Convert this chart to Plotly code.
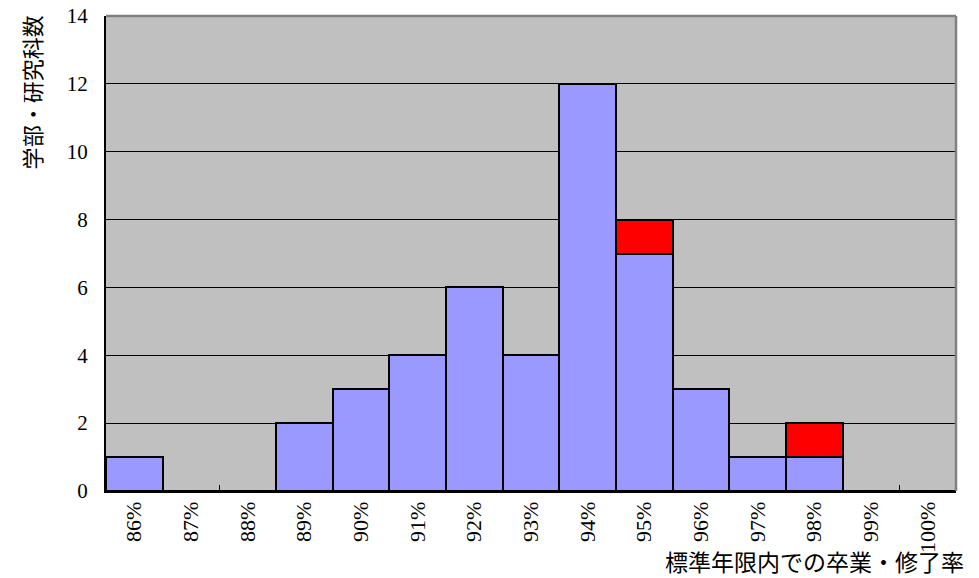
import plotly.graph_objects as go

categories = ["86%", "87%", "88%", "89%", "90%", "91%", "92%", "93%", "94%", "95%", "96%", "97%", "98%", "99%", "100%"]
blue_values = [1, 0, 0, 2, 3, 4, 6, 4, 12, 7, 3, 1, 1, 0, 0]
red_values = [None, None, None, None, None, None, None, None, None, 1, None, None, 1, None, None]
y_ticks = [0, 2, 4, 6, 8, 10, 12, 14]

FONT = "'Liberation Serif', 'DejaVu Serif', 'Noto Sans CJK JP', serif"

fig = go.Figure()
fig.add_trace(go.Bar(x=categories, y=blue_values, marker=dict(color="#9999FF", line=dict(color="black", width=2.5)), showlegend=False))
fig.add_trace(go.Bar(x=categories, y=red_values, marker=dict(color="#FF0000", line=dict(color="black", width=2.5)), showlegend=False))

fig.update_layout(
    width=979, height=578,
    margin=dict(l=106, r=23, t=16, b=87),
    barmode="stack", bargap=0,
    paper_bgcolor="white", plot_bgcolor="#C0C0C0",
    font=dict(family=FONT, color="black"),
    xaxis=dict(type="category", tickangle=-90, tickfont=dict(size=22, family=FONT),
               showline=True, linecolor="black", linewidth=2,
               ticks="inside", tickson="boundaries", ticklen=6, tickcolor="black",
               showgrid=False, range=[-0.5, 14.5], automargin=False),
    yaxis=dict(range=[0, 14], tickvals=y_ticks, tickfont=dict(size=21, family=FONT),
               showline=True, linecolor="black", linewidth=2,
               ticks="inside", ticklen=6, tickcolor="black",
               gridcolor="black", gridwidth=1, zeroline=False,
               ticklabelstandoff=12, automargin=False),
    shapes=[
        dict(type="line", xref="paper", yref="paper", x0=0, x1=1, y0=1, y1=1, line=dict(color="#808080", width=2.5), layer="above"),
        dict(type="line", xref="paper", yref="paper", x0=1, x1=1, y0=0, y1=1, line=dict(color="#808080", width=2.5), layer="above"),
    ],
    annotations=[
        dict(text="学部・研究科数", xref="paper", yref="paper", x=-0.085, y=1.005,
             xanchor="center", yanchor="top", textangle=-90, showarrow=False,
             font=dict(size=22, family=FONT)),
        dict(text="標準年限内での卒業・修了率", xref="paper", yref="paper", x=1.012, y=-0.152,
             xanchor="right", yanchor="middle", showarrow=False,
             font=dict(size=23, family=FONT)),
    ],
)

fig.write_html("out.html", config={"displayModeBar": False},
               post_script="document.body.style.margin='0';document.body.style.padding='0';")
